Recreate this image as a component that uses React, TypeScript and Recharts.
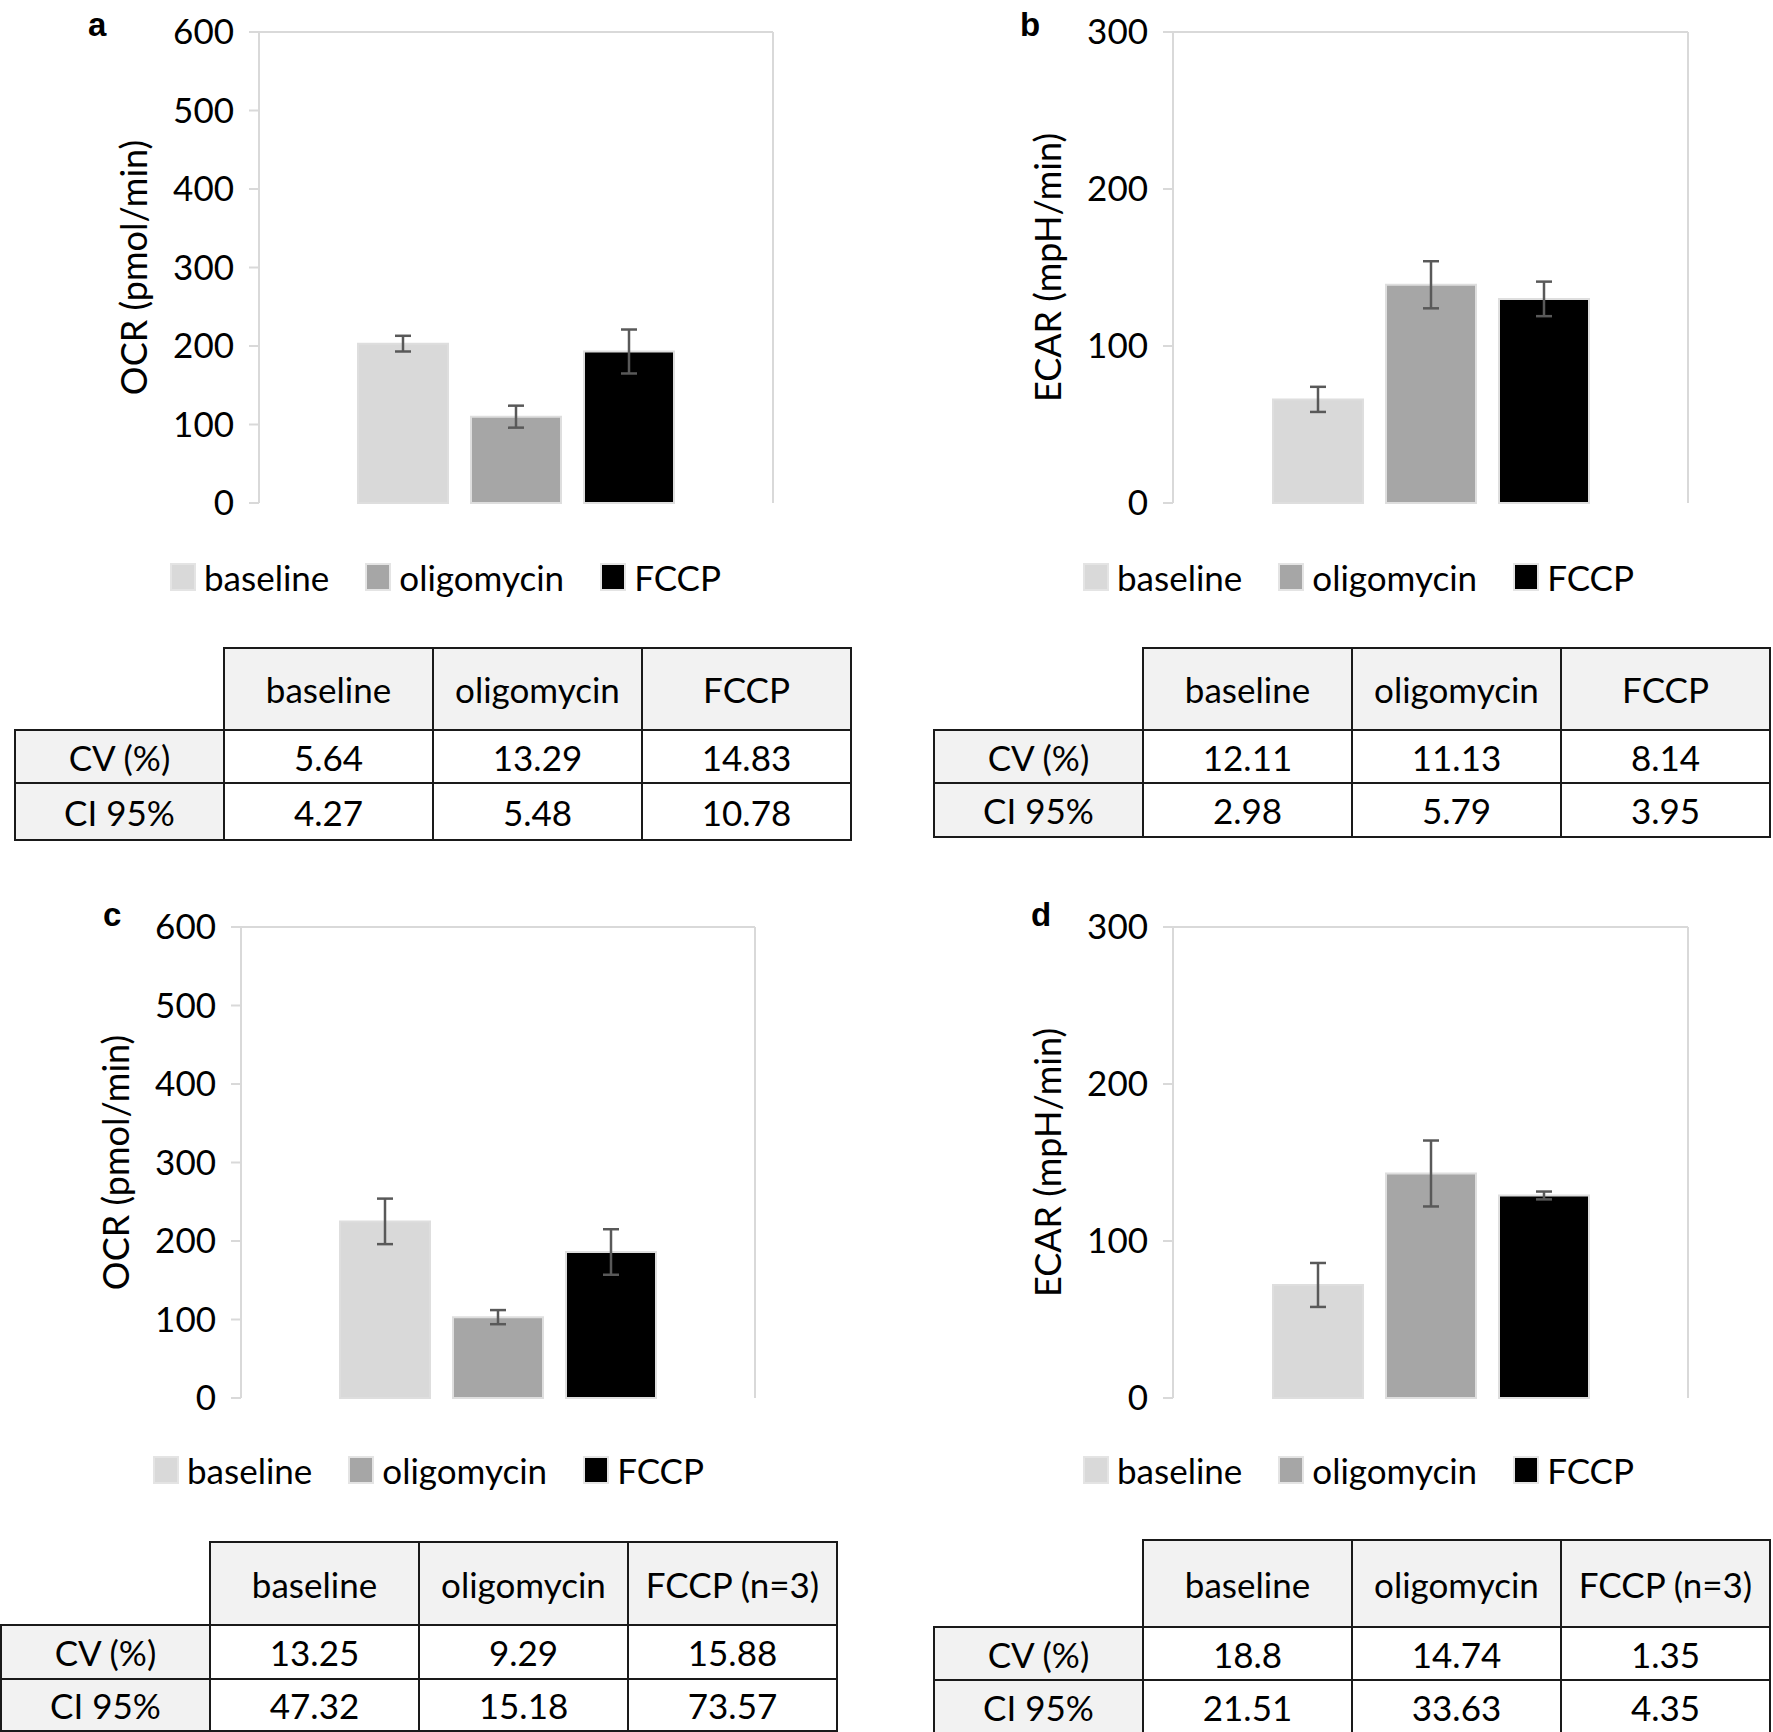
import * as React from 'react';
import {BarChart, Bar, XAxis, YAxis, ErrorBar, CartesianGrid, Legend} from 'recharts';

const treatments = ['baseline', 'oligomycin', 'FCCP'];
const barColors = ['#d9d9d9', '#a6a6a6', '#000000'];

// a: OCR, first experiment
const ocrA = [203, 110, 193];
const ocrAErr = [10, 14, 28];
// b: ECAR, first experiment
const ecarB = [66, 139, 130];
const ecarBErr = [8, 15, 11];
// c: OCR, second experiment
const ocrC = [225, 103, 186];
const ocrCErr = [29, 9, 29];
// d: ECAR, second experiment
const ecarD = [72, 143, 129];
const ecarDErr = [14, 21, 2.5];

const ocrTicks = [0, 100, 200, 300, 400, 500, 600];
const ecarTicks = [0, 100, 200, 300];

const rowLabels = ['CV (%)', 'CI 95%'];
const headTop = ['baseline', 'oligomycin', 'FCCP'];
const headBottom = ['baseline', 'oligomycin', 'FCCP (n=3)'];
const cvA = ['5.64', '13.29', '14.83'];
const ciA = ['4.27', '5.48', '10.78'];
const cvB = ['12.11', '11.13', '8.14'];
const ciB = ['2.98', '5.79', '3.95'];
const cvC = ['13.25', '9.29', '15.88'];
const ciC = ['47.32', '15.18', '73.57'];
const cvD = ['18.8', '14.74', '1.35'];
const ciD = ['21.51', '33.63', '4.35'];

const FONT = 'Lato, "Open Sans", sans-serif';
const GRID = '#d9d9d9';

const toRow = (vals: number[], errs: number[]) => {
    const row: any = {name: ''};
    treatments.forEach((t, i) => {
        row[t] = vals[i];
        row[t + 'Err'] = errs[i];
    });
    return [row];
};

const AxisTitle = (props: any) => {
    const {viewBox, value} = props;
    const x = viewBox.x + viewBox.width - 126;
    const y = viewBox.y + viewBox.height / 2;
    return (
        <text x={x} y={y} transform={`rotate(-90 ${x} ${y})`} textAnchor="middle" dominantBaseline="central"
              fontSize={36} fontFamily={FONT} fill="#000">{value}</text>
    );
};

const LegendRow = (props: any) => {
    // keep the series order, not alphabetical
    const items = [...(props.payload || [])].sort((a: any, b: any) => treatments.indexOf(a.value) - treatments.indexOf(b.value));
    return (
        <div style={{display: 'flex', alignItems: 'center', gap: 36, fontFamily: FONT, fontSize: 35, color: '#000'}}>
            {items.map((p: any) => (
                <div key={p.value} style={{display: 'flex', alignItems: 'center', gap: 8}}>
                    <span style={{width: 22, height: 24, background: p.color, border: '2px solid #e4e4e4', display: 'inline-block'}}/>
                    <span>{p.value}</span>
                </div>
            ))}
        </div>
    );
};

type PanelProps = {
    letter: string; letterX: number; letterY: number;
    left: number; top: number; width: number; height: number;
    margin: any; yWidth: number; legendTop: number; legendLeft: number;
    values: number[]; errors: number[]; ticks: number[]; yLabel: string;
};

const Panel = (p: PanelProps) => {
    const data = toRow(p.values, p.errors);
    const max = p.ticks[p.ticks.length - 1];
    return (
        <>
            <div style={{position: 'absolute', left: p.letterX, top: p.letterY, fontFamily: 'Liberation Sans, Arial, sans-serif', fontWeight: 'bold', fontSize: 33, lineHeight: '33px'}}>{p.letter}</div>
            <div style={{position: 'absolute', left: p.left, top: p.top}}>
                <BarChart width={p.width} height={p.height} data={data} margin={p.margin} barSize={90} barGap={23}>
                    {/* top and right edges of the plot frame */}
                    <CartesianGrid stroke={GRID} strokeWidth={2}
                                   horizontalCoordinatesGenerator={({offset}: any) => [offset.top]}
                                   verticalCoordinatesGenerator={({offset}: any) => [offset.left + offset.width]}/>
                    <XAxis dataKey="name" tick={false} tickLine={false} height={0} axisLine={{stroke: GRID, strokeWidth: 2}}/>
                    <YAxis domain={[0, max]} ticks={p.ticks} width={p.yWidth} interval={0}
                           axisLine={{stroke: GRID, strokeWidth: 2}} tickLine={{stroke: GRID, strokeWidth: 2}} tickSize={10} tickMargin={15}
                           tick={{fontSize: 35, fontFamily: FONT, fill: '#000'}}
                           label={<AxisTitle value={p.yLabel}/>}/>
                    <Legend verticalAlign="middle" layout="horizontal" content={<LegendRow/>}
                            wrapperStyle={{top: p.legendTop, left: p.legendLeft, width: 760, height: 44}}/>
                    {treatments.map((t, i) => (
                        <Bar key={t} dataKey={t} name={t} fill={barColors[i]} stroke="#dedede" strokeWidth={2} isAnimationActive={false}>
                            <ErrorBar dataKey={t + 'Err'} width={8} stroke="#595959" strokeWidth={2.5}/>
                        </Bar>
                    ))}
                </BarChart>
            </div>
        </>
    );
};

type TableProps = {left: number; top: number; heads: string[]; cv: string[]; ci: string[]; rowH: number[]};

const StatsTable = (t: TableProps) => {
    const cell: React.CSSProperties = {border: '2px solid #1a1a1a', textAlign: 'center', padding: 0, width: 207};
    const grey = '#f2f2f2';
    return (
        <table style={{position: 'absolute', left: t.left, top: t.top, borderCollapse: 'collapse', fontFamily: FONT, fontSize: 35, color: '#000', tableLayout: 'fixed'}}>
            <tbody>
            <tr style={{height: t.rowH[0]}}>
                <td style={{...cell, border: 'none'}}/>
                {t.heads.map(h => <td key={h} style={{...cell, background: grey}}>{h}</td>)}
            </tr>
            {[t.cv, t.ci].map((vals, r) => (
                <tr key={r} style={{height: t.rowH[r + 1]}}>
                    <td style={{...cell, background: grey}}>{rowLabels[r]}</td>
                    {vals.map((v, i) => <td key={i} style={cell}>{v}</td>)}
                </tr>
            ))}
            </tbody>
        </table>
    );
};

export default function App() {
    return (
        <div style={{position: 'absolute', left: 0, top: 0, width: 1773, height: 1732, background: '#fff', overflow: 'hidden'}}>
            <Panel letter="a" letterX={88} letterY={8} left={0} top={0} width={880} height={620}
                   margin={{top: 32, right: 107, left: 0, bottom: 117}} yWidth={259} legendTop={556} legendLeft={170}
                   values={ocrA} errors={ocrAErr} ticks={ocrTicks} yLabel="OCR (pmol/min)"/>
            <Panel letter="b" letterX={1020} letterY={8} left={880} top={0} width={893} height={620}
                   margin={{top: 32, right: 85, left: 0, bottom: 117}} yWidth={293} legendTop={556} legendLeft={203}
                   values={ecarB} errors={ecarBErr} ticks={ecarTicks} yLabel="ECAR (mpH/min)"/>
            <Panel letter="c" letterX={103} letterY={898} left={0} top={880} width={880} height={620}
                   margin={{top: 47, right: 125, left: 0, bottom: 102}} yWidth={241} legendTop={569} legendLeft={153}
                   values={ocrC} errors={ocrCErr} ticks={ocrTicks} yLabel="OCR (pmol/min)"/>
            <Panel letter="d" letterX={1031} letterY={898} left={880} top={880} width={893} height={620}
                   margin={{top: 47, right: 85, left: 0, bottom: 102}} yWidth={293} legendTop={569} legendLeft={203}
                   values={ecarD} errors={ecarDErr} ticks={ecarTicks} yLabel="ECAR (mpH/min)"/>

            <StatsTable left={14} top={647} heads={headTop} cv={cvA} ci={ciA} rowH={[82, 53, 57]}/>
            <StatsTable left={933} top={647} heads={headTop} cv={cvB} ci={ciB} rowH={[82, 53, 54]}/>
            <StatsTable left={0} top={1541} heads={headBottom} cv={cvC} ci={ciC} rowH={[83, 54, 52]}/>
            <StatsTable left={933} top={1539} heads={headBottom} cv={cvD} ci={ciD} rowH={[87, 53, 53]}/>
        </div>
    );
}
